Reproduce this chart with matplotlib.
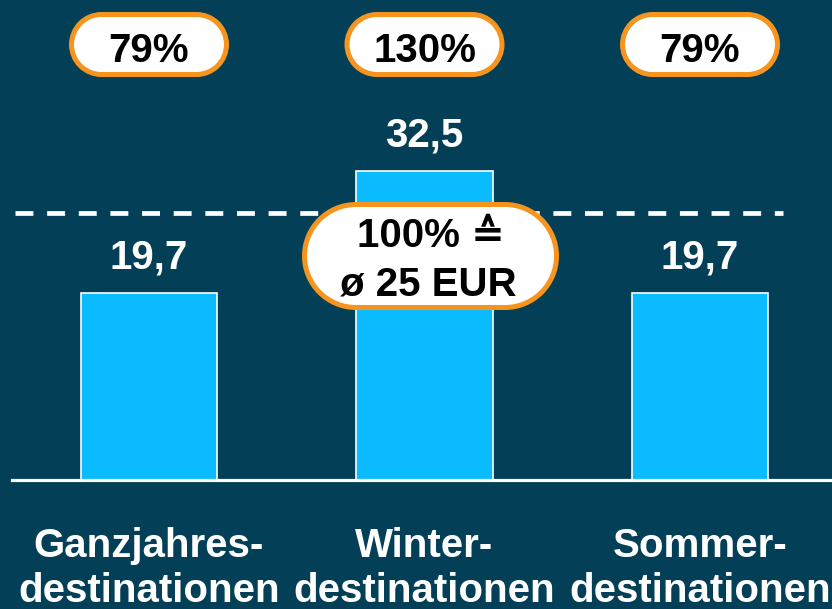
import numpy as np
import matplotlib.pyplot as plt
from matplotlib.patches import PathPatch
from matplotlib.path import Path
from matplotlib.transforms import IdentityTransform

categories = ['Ganzjahres-\ndestinationen', 'Winter-\ndestinationen', 'Sommer-\ndestinationen']
values = [19.7, 32.5, 19.7]
index_labels = ['79%', '130%', '79%']
reference_text = ['100% \u2259', '\u00f8 25 EUR']

bg = '#033F57'
bar_color = '#0ABBFF'
orange = '#F7941E'
font = ['Liberation Sans', 'DejaVu Sans']
fs = 29

fig = plt.figure(figsize=(8.32, 6.09), dpi=100)
fig.patch.set_facecolor(bg)
ax = fig.add_axes([0, 0, 1, 1])
ax.set_facecolor(bg)
ax.set_axis_off()

# 275.5 px per category, 9.5 px per EUR, baseline at pixel row 480
ax.set_xlim(-149 / 275.5, 2 + 132 / 275.5)
ax.set_ylim(-129 / 9.5, 480 / 9.5)

x = range(len(values))
ax.bar(x, values, width=0.494, color=bar_color, edgecolor='white', linewidth=1.2, zorder=2)
ax.axhline(0, xmin=12 / 832, xmax=1, color='white', linewidth=2.3, zorder=3)

# dashed reference line
ax.plot([-0.487, 2.3], [28.1, 28.1], color='white', linewidth=3.4,
        dashes=(3.8, 2.9), zorder=3)

for i, v in enumerate(values):
    ax.text(i, v + 2.6, str(v).replace('.', ','), ha='center', va='baseline',
            color='white', fontsize=fs, fontweight='bold', family=font, zorder=5)
    for k, line in enumerate(categories[i].split('\n')):
        ax.text(i, -8.1 - 4.74 * k, line, ha='center', va='baseline',
                color='white', fontsize=fs, fontweight='bold', family=font, zorder=5)


def pill(cx, cy, w, h):
    # stadium shape in pixel space
    r = h / 2
    right = Path.arc(-90, 90)
    left = Path.arc(90, 270)
    v = np.vstack([right.vertices * r + (cx + w / 2 - r, cy),
                   left.vertices * r + (cx - w / 2 + r, cy),
                   [[0, 0]]])
    codes = list(right.codes) + [Path.LINETO] + list(left.codes[1:]) + [Path.CLOSEPOLY]
    p = PathPatch(Path(v, codes), facecolor='white', edgecolor=orange,
                  linewidth=3.6, transform=IdentityTransform(), zorder=4)
    ax.add_patch(p)


H = 609
for i, lab in enumerate(index_labels):
    cx, _ = ax.transData.transform((i, 0))
    pill(cx, H - 44.5, 155, 60)
    ax.text(i, (480 - 62) / 9.5, lab, ha='center', va='baseline',
            color='black', fontsize=fs, fontweight='bold', family=font, zorder=5)

# centre pill: 100% = average 25 EUR
cx, _ = ax.transData.transform((1, 0))
pill(cx + 6, H - 256, 252, 103)
ax.text(1 + 6 / 275.5, (480 - 247) / 9.5, reference_text[0], ha='center', va='baseline',
        color='black', fontsize=fs, fontweight='bold', family=font, zorder=5)
ax.text(1 + 4 / 275.5, (480 - 295) / 9.5, reference_text[1], ha='center', va='baseline',
        color='black', fontsize=fs, fontweight='bold', family=font, zorder=5)

fig.savefig('out.png', dpi=100, facecolor=bg)
